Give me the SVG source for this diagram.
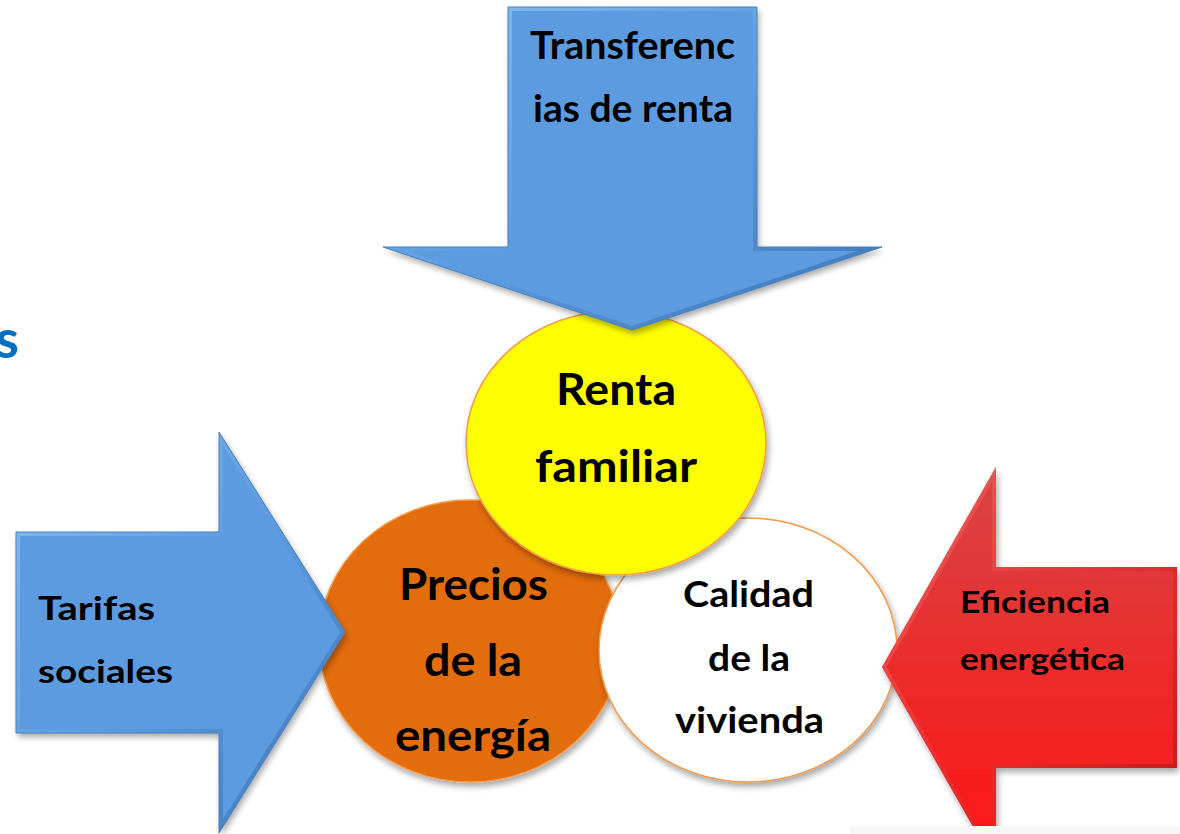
<svg xmlns="http://www.w3.org/2000/svg" width="1180" height="834" viewBox="0 0 1180 834">
  <style>
    .lbl { font-family: Lato, "Open Sans", "Liberation Sans", sans-serif; font-weight: 700; fill: #000; }
    .circ { stroke: #f39a4c; stroke-width: 1.5; }
    .bevel { fill: none; stroke-width: 8; }
  </style>
  <defs>
    <filter id="shadow" x="-10%" y="-10%" width="125%" height="125%">
      <feDropShadow dx="2" dy="4" stdDeviation="3" flood-color="#000" flood-opacity="0.35"/>
    </filter>
    <linearGradient id="bevBlue" x1="0" y1="0" x2="1" y2="1">
      <stop offset="0" stop-color="#8cbcf0"/>
      <stop offset="0.5" stop-color="#5b9bdf"/>
      <stop offset="1" stop-color="#3d74b4"/>
    </linearGradient>
    <linearGradient id="redFill" x1="0" y1="0" x2="0" y2="1">
      <stop offset="0" stop-color="#d84444"/>
      <stop offset="1" stop-color="#ff1414"/>
    </linearGradient>
    <linearGradient id="bevRed" x1="0" y1="0" x2="1" y2="1">
      <stop offset="0" stop-color="#f07070"/>
      <stop offset="0.5" stop-color="#e83030"/>
      <stop offset="1" stop-color="#a01818"/>
    </linearGradient>
    <polygon id="pTop" points="508,7 757,7 757,247 882,247 632,330 383,247 508,247"/>
    <polygon id="pLeft" points="16,532 219,532 219,432 345,632 219,833 219,733 16,733"/>
    <polygon id="pRight" points="996,467 996,567 1177,567 1177,768 996,768 996,867 882,667"/>
    <clipPath id="cTop"><use href="#pTop"/></clipPath>
    <clipPath id="cLeft"><use href="#pLeft"/></clipPath>
    <clipPath id="cRight"><use href="#pRight"/></clipPath>
  </defs>

  <rect x="0" y="0" width="1180" height="834" fill="#ffffff"/>

  <!-- cut-off fragments at left edge -->
  <g id="fragments">
    <text x="19" y="358" text-anchor="end" style="font-family: Lato, 'Open Sans', sans-serif; font-weight: 700; font-size: 54px; fill: #0070c0;">s</text>
    <text x="-4" y="524" style="font-family: Lato, sans-serif; font-weight: 700; font-size: 18px; fill: #222;">.</text>
  </g>

  <!-- circles -->
  <g id="node-precios">
    <ellipse class="circ" cx="470" cy="641" rx="151" ry="141" fill="#e36c0a" filter="url(#shadow)"/>
    <text class="lbl" x="399" y="600" font-size="44" textLength="149" lengthAdjust="spacingAndGlyphs">Precios</text>
    <text class="lbl" x="424" y="676" font-size="44" textLength="98" lengthAdjust="spacingAndGlyphs">de la</text>
    <text class="lbl" x="395" y="751" font-size="44" textLength="156" lengthAdjust="spacingAndGlyphs">energía</text>
  </g>

  <g id="node-calidad">
    <ellipse class="circ" cx="748" cy="650" rx="149" ry="132" fill="#ffffff" filter="url(#shadow)"/>
    <text class="lbl" x="683" y="607" font-size="36" textLength="131" lengthAdjust="spacingAndGlyphs">Calidad</text>
    <text class="lbl" x="708" y="671" font-size="36" textLength="82" lengthAdjust="spacingAndGlyphs">de la</text>
    <text class="lbl" x="675" y="733" font-size="36" textLength="149" lengthAdjust="spacingAndGlyphs">vivienda</text>
  </g>

  <g id="node-renta">
    <ellipse class="circ" cx="616" cy="443" rx="150" ry="132" fill="#ffff00" filter="url(#shadow)"/>
    <text class="lbl" x="556" y="405" font-size="43" textLength="120" lengthAdjust="spacingAndGlyphs">Renta</text>
    <text class="lbl" x="535" y="482" font-size="43" textLength="162" lengthAdjust="spacingAndGlyphs">familiar</text>
  </g>

  <!-- block arrows -->
  <g id="node-transferencias">
    <use href="#pTop" fill="#5b9bdf" filter="url(#shadow)"/>
    <use href="#pTop" class="bevel" stroke="url(#bevBlue)" clip-path="url(#cTop)"/>
    <use href="#pTop" fill="none" stroke="#4a82c2" stroke-width="1"/>
    <text class="lbl" x="530" y="59" font-size="38" textLength="205" lengthAdjust="spacingAndGlyphs">Transferenc</text>
    <text class="lbl" x="533" y="122" font-size="38" textLength="200" lengthAdjust="spacingAndGlyphs">ias de renta</text>
  </g>

  <g id="node-tarifas">
    <use href="#pLeft" fill="#5b9bdf" filter="url(#shadow)"/>
    <use href="#pLeft" class="bevel" stroke="url(#bevBlue)" clip-path="url(#cLeft)"/>
    <use href="#pLeft" fill="none" stroke="#4a82c2" stroke-width="1"/>
    <text class="lbl" x="38" y="620" font-size="33" textLength="117" lengthAdjust="spacingAndGlyphs">Tarifas</text>
    <text class="lbl" x="38" y="683" font-size="33" textLength="135" lengthAdjust="spacingAndGlyphs">sociales</text>
  </g>

  <g id="node-eficiencia">
    <use href="#pRight" fill="url(#redFill)" filter="url(#shadow)"/>
    <use href="#pRight" class="bevel" stroke="url(#bevRed)" clip-path="url(#cRight)" opacity="0.7"/>
    <text class="lbl" x="960" y="613" font-size="30" textLength="150" lengthAdjust="spacingAndGlyphs">Eficiencia</text>
    <text class="lbl" x="960" y="670" font-size="30" textLength="165" lengthAdjust="spacingAndGlyphs">energética</text>
  </g>

  <rect x="850" y="826" width="330" height="8" fill="#f6f6f6"/>
</svg>
